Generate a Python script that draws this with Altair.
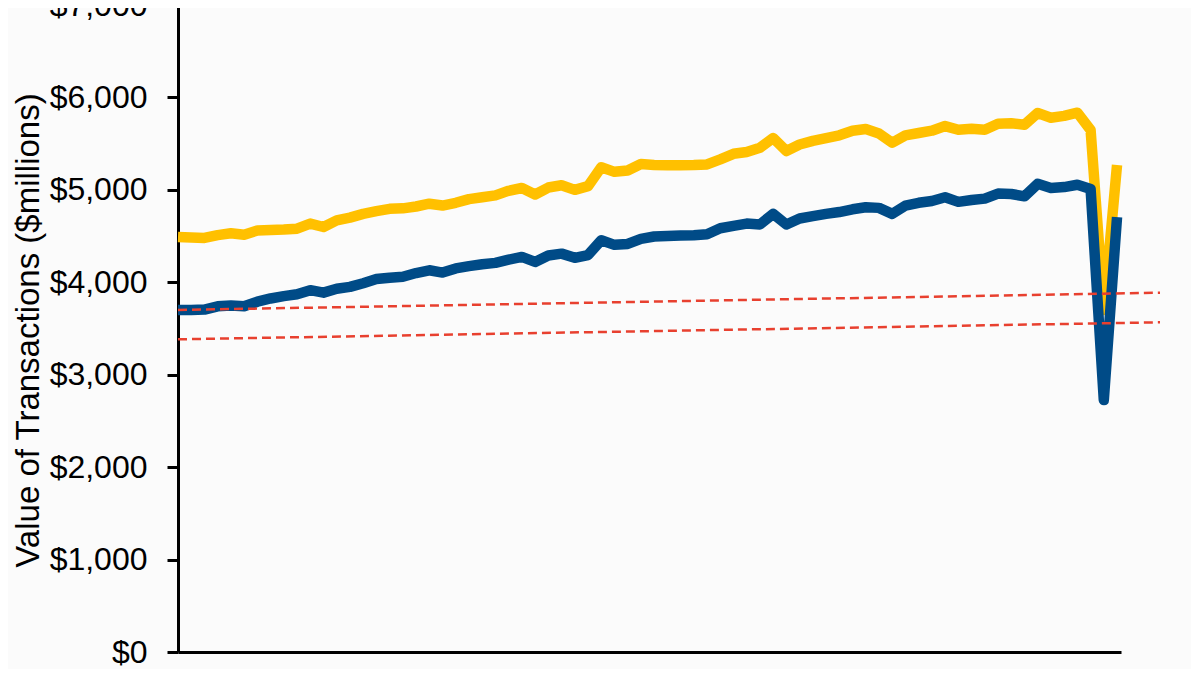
import altair as alt
import pandas as pd

# Monthly values ($ millions)
series_gold = [4490, 4485, 4480, 4510, 4530, 4515, 4560, 4565, 4570, 4580,
               4635, 4598, 4670, 4700, 4740, 4770, 4795, 4800, 4820, 4850,
               4830, 4860, 4900, 4920, 4940, 4990, 5020, 4950, 5025, 5050,
               5000, 5040, 5245, 5195, 5210, 5280, 5270, 5265, 5265, 5268,
               5275, 5330, 5390, 5410, 5455, 5560, 5420, 5490, 5530, 5560,
               5590, 5640, 5658, 5610, 5510, 5590, 5615, 5640, 5690, 5650,
               5660, 5650, 5715, 5720, 5705, 5831, 5780, 5800, 5835, 5648,
               3700, 5269]
series_navy = [3700, 3700, 3705, 3740, 3750, 3740, 3790, 3825, 3850, 3870,
               3915, 3888, 3930, 3950, 3990, 4035, 4050, 4060, 4100, 4130,
               4105, 4150, 4175, 4195, 4210, 4245, 4274, 4220, 4290, 4310,
               4265, 4295, 4455, 4405, 4415, 4470, 4495, 4500, 4505, 4510,
               4520, 4585, 4610, 4635, 4625, 4740, 4625, 4690, 4715, 4740,
               4760, 4790, 4812, 4805, 4740, 4830, 4860, 4880, 4920, 4870,
               4890, 4905, 4960, 4955, 4930, 5065, 5020, 5030, 5055, 5010,
               2726, 4706]

# Two dashed reference lines (start / end values)
trend_upper = [3700, 3888]
trend_lower = [3383, 3567]
trend_x = [0, 74.25]

y_ticks = [0, 1000, 2000, 3000, 4000, 5000, 6000, 7000]

n = len(series_gold)
rows = []
for i in range(n):
    rows.append({"t": i, "value": series_gold[i], "series": "gold"})
for i in range(n):
    rows.append({"t": i, "value": series_navy[i], "series": "navy"})
df = pd.DataFrame(rows)

trend_rows = []
for name, vals in (("upper", trend_upper), ("lower", trend_lower)):
    for xx, vv in zip(trend_x, vals):
        trend_rows.append({"t": xx, "value": vv, "series": name})
tdf = pd.DataFrame(trend_rows)

W, H = 943, 644
xscale = alt.Scale(domain=[0, 71.3], nice=False, zero=False)
yscale = alt.Scale(domain=[0, 7000], range=[H, -3], nice=False)

xaxis = alt.Axis(title=None, labels=False, ticks=False, grid=False,
                 domainColor="black", domainWidth=3)
yaxis = alt.Axis(title="Value of Transactions ($millions)", values=y_ticks,
                 labelExpr="'$' + format(datum.value, ',')",
                 grid=False, domainColor="black", domainWidth=3,
                 tickColor="black", tickWidth=3, tickSize=11,
                 labelPadding=20, labelFontSize=32, labelColor="black",
                 labelFont="Liberation Sans",
                 titleFont="Liberation Sans", titleFontSize=33,
                 titleFontWeight="normal", titleColor="black",
                 titleAngle=270, titleX=-150, titleY=H / 2,
                 titleBaseline="middle", titleAlign="center")

gold = alt.Chart(df).transform_filter(alt.datum.series == "gold").mark_line(
    color="#FFC000", strokeWidth=10.5, strokeJoin="round", strokeCap="butt"
).encode(x=alt.X("t:Q", scale=xscale, axis=xaxis),
         y=alt.Y("value:Q", scale=yscale, axis=yaxis))

navy = alt.Chart(df).transform_filter(alt.datum.series == "navy").mark_line(
    color="#004B87", strokeWidth=10.5, strokeJoin="round", strokeCap="butt"
).encode(x=alt.X("t:Q", scale=xscale), y=alt.Y("value:Q", scale=yscale))

trend = alt.Chart(tdf).mark_line(
    color="#E8402F", strokeWidth=2.5, strokeDash=[9, 5], clip=False
).encode(x=alt.X("t:Q", scale=xscale), y=alt.Y("value:Q", scale=yscale),
         detail="series:N")

chart = alt.layer(gold, navy, trend).properties(
    width=W, height=H,
    autosize=alt.AutoSizeParams(type="none"),
    padding={"left": 170, "top": 0, "right": 70, "bottom": 17},
    background="#fbfbfb",
).configure_view(stroke=None)

chart.save("out.html", embed_options={"renderer": "svg", "actions": False})
